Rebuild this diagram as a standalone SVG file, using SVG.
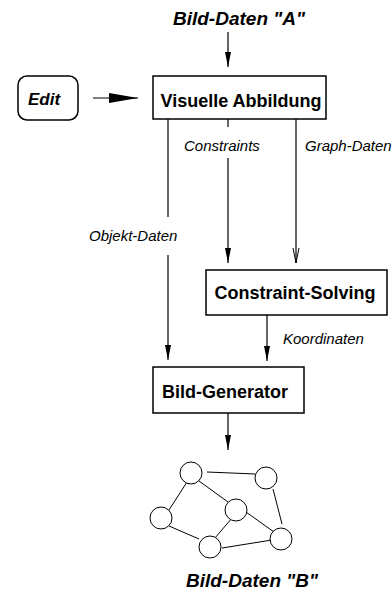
<svg xmlns="http://www.w3.org/2000/svg" width="392" height="596" viewBox="0 0 392 596">
<style>
.box{fill:#fff;stroke:#000;stroke-width:1.5}
.lbl{font-family:"Liberation Sans",Arial,sans-serif;font-weight:bold;font-size:18px;fill:#000;text-anchor:middle}
.ttl{font-family:"Liberation Sans",Arial,sans-serif;font-weight:bold;font-style:italic;font-size:19px;fill:#000;text-anchor:middle}
.it{font-family:"Liberation Sans",Arial,sans-serif;font-style:italic;font-size:15px;fill:#000}
.ln{stroke:#000;stroke-width:1.2;fill:none}
.nd{fill:#fff;stroke:#000;stroke-width:1}
.ed{stroke:#000;stroke-width:1}
</style>
<defs>
<marker id="ah" markerUnits="userSpaceOnUse" markerWidth="16" markerHeight="8" viewBox="0 0 16 8" refX="15" refY="4" orient="auto">
<path d="M0,1 L15,4 L0,7 Z" fill="#000"/>
</marker>
<marker id="av" markerUnits="userSpaceOnUse" markerWidth="16" markerHeight="8" viewBox="0 0 16 8" refX="15" refY="4" orient="auto">
<path d="M0,1 L15,4 L0,7" fill="none" stroke="#000" stroke-width="1"/>
</marker>
<marker id="ab" markerUnits="userSpaceOnUse" markerWidth="30" markerHeight="12" viewBox="0 0 30 12" refX="29" refY="6" orient="auto">
<path d="M0,1 L29,6 L0,11 Z" fill="#000"/>
</marker>
</defs>

<text class="ttl" x="239" y="25">Bild-Daten "A"</text>

<g id="edit">
<rect class="box" x="18" y="76" width="60" height="44" rx="9" ry="9"/>
<text class="ttl" x="44" y="105" style="font-size:17px">Edit</text>
</g>

<g id="visuelle-abbildung">
<rect class="box" x="153" y="76" width="173" height="43"/>
<text class="lbl" x="241" y="107">Visuelle Abbildung</text>
</g>

<g id="constraint-solving">
<rect class="box" x="206" y="270" width="181" height="45"/>
<text class="lbl" x="295" y="299">Constraint-Solving</text>
</g>

<g id="bild-generator">
<rect class="box" x="153" y="367" width="151" height="46"/>
<text class="lbl" x="225" y="398">Bild-Generator</text>
</g>

<g id="connectors">
<line class="ln" x1="228" y1="32" x2="228" y2="67" marker-end="url(#ah)"/>
<line class="ln" x1="93" y1="98" x2="138" y2="98" marker-end="url(#ab)"/>
<line class="ln" x1="228" y1="119" x2="228" y2="127"/>
<line class="ln" x1="228" y1="158" x2="228" y2="263" marker-end="url(#ah)"/>
<line class="ln" x1="296" y1="119" x2="296" y2="263" marker-end="url(#av)"/>
<line class="ln" x1="168" y1="119" x2="168" y2="217"/>
<line class="ln" x1="168" y1="255" x2="168" y2="360" marker-end="url(#ah)"/>
<line class="ln" x1="267" y1="315" x2="267" y2="361" marker-end="url(#ah)"/>
<line class="ln" x1="228" y1="413" x2="228" y2="450" marker-end="url(#ah)"/>
<text class="it" x="184" y="151">Constraints</text>
<text class="it" x="305" y="151">Graph-Daten</text>
<text class="it" x="89" y="241">Objekt-Daten</text>
<text class="it" x="283" y="344">Koordinaten</text>
</g>

<g id="graph-picture">
<line class="ed" x1="207" y1="472" x2="255" y2="474"/>
<line class="ed" x1="199" y1="481" x2="228" y2="502"/>
<line class="ed" x1="187" y1="482" x2="169" y2="510"/>
<line class="ed" x1="273" y1="489" x2="282" y2="524"/>
<line class="ed" x1="246" y1="512" x2="274" y2="532"/>
<line class="ed" x1="232" y1="518" x2="215" y2="538"/>
<line class="ed" x1="169" y1="526" x2="199" y2="539"/>
<line class="ed" x1="222" y1="548" x2="272" y2="540"/>
<circle class="nd" cx="191" cy="473" r="11"/>
<circle class="nd" cx="266" cy="478" r="11"/>
<circle class="nd" cx="236" cy="510" r="11"/>
<circle class="nd" cx="161" cy="518" r="11"/>
<circle class="nd" cx="210" cy="547" r="11"/>
<circle class="nd" cx="281" cy="539" r="11"/>
</g>

<text class="ttl" x="252" y="587">Bild-Daten "B"</text>
</svg>
